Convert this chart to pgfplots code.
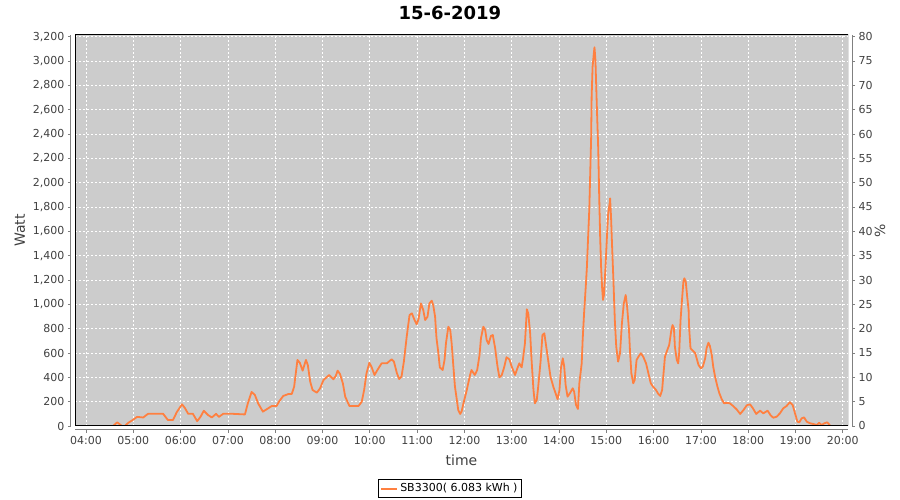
\documentclass[border=0pt]{standalone}
\usepackage{fontspec}
\setmainfont{DejaVu Sans}
\usepackage{pgfplots}
\pgfplotsset{compat=1.18}
\definecolor{bggray}{RGB}{204,204,204}
\definecolor{lineor}{RGB}{255,128,64}
\definecolor{txtgray}{RGB}{64,64,64}
\begin{document}
\begin{tikzpicture}[x=1pt,y=1pt]
\useasboundingbox (0,0) rectangle (900,500);
\begin{axis}[
  at={(75pt,74pt)}, anchor=south west,
  width=773pt, height=391pt, scale only axis,
  xmin=3.767, xmax=20.11, ymin=0, ymax=3214,
  axis x line*=bottom, axis y line*=left,
  axis x line shift=4pt, axis y line shift=4pt,
  x axis line style={-, draw=gray, line width=1pt},
  y axis line style={-, draw=gray, line width=1pt},
  axis background/.style={fill=bggray},
  tick align=outside, major tick length=3pt,
  tick style={gray, line width=0.8pt},
  xtick={4,5,...,20},
  xticklabels={04:00,05:00,06:00,07:00,08:00,09:00,10:00,11:00,12:00,13:00,14:00,15:00,16:00,17:00,18:00,19:00,20:00},
  ytick={0,200,...,3200},
  grid=major,
  grid style={white, dash pattern=on 2pt off 2pt, line width=0.8pt},
  /pgf/number format/assume math mode=true,
  /pgf/number format/1000 sep={,},
  tick label style={color=txtgray, font=\fontsize{11}{13}\selectfont},
  xlabel={time}, ylabel={Watt},
  xlabel style={at={(axis description cs:0.5,-0.087)}, anchor=center, color=txtgray, font=\fontsize{14}{16}\selectfont},
  ylabel style={at={(axis description cs:-0.0712,0.5)}, anchor=center, color=txtgray, font=\fontsize{14}{16}\selectfont},
  title={15-6-2019},
  title style={at={(axis description cs:0.485,1.04)}, anchor=center, font=\bfseries\fontsize{18}{20}\selectfont},
  legend style={at={(axis description cs:0.485,-0.16)}, anchor=center, draw=black, fill=white, font=\fontsize{11}{13}\selectfont, inner sep=2pt, line width=0.8pt},
  legend image code/.code={\draw[lineor, line width=2pt] (0pt,0pt) -- (16pt,0pt);},
]
\addplot[lineor, line width=1.8pt, line join=round] coordinates {
(4.04,0) (4.57,0) (4.66,30) (4.76,0) (4.82,0) (4.89,25) (4.99,50) (5.08,75) (5.21,70)
(5.31,100) (5.50,100) (5.63,100) (5.73,50) (5.84,50) (5.92,115) (6.03,178) (6.09,148)
(6.16,100) (6.26,100) (6.35,40) (6.42,75) (6.49,125) (6.58,90) (6.66,70) (6.75,100)
(6.81,75) (6.90,100) (7.11,100) (7.36,95) (7.42,185) (7.50,280) (7.57,255) (7.64,185)
(7.74,118) (7.85,145) (7.93,165) (8.03,165) (8.08,200) (8.17,247) (8.28,263) (8.35,263)
(8.40,323) (8.47,543) (8.52,520) (8.58,455) (8.65,543) (8.69,500) (8.74,364) (8.79,296)
(8.88,274) (8.95,310) (9.02,378) (9.14,419) (9.23,384) (9.28,411) (9.32,455) (9.37,427)
(9.43,351) (9.48,241) (9.57,164) (9.76,164) (9.83,200) (9.88,296) (9.93,433) (9.99,520)
(10.04,482) (10.10,419) (10.16,460) (10.25,515) (10.36,515) (10.46,548) (10.51,529)
(10.57,438) (10.62,386) (10.67,405) (10.72,529) (10.78,734) (10.84,912) (10.89,926)
(10.94,877) (10.99,836) (11.03,877) (11.08,1008) (11.13,953) (11.17,871) (11.22,898)
(11.26,1008) (11.31,1030) (11.34,995) (11.38,898) (11.41,721) (11.45,598) (11.48,482)
(11.54,460) (11.58,543) (11.61,680) (11.66,816) (11.70,789) (11.73,680) (11.77,474)
(11.80,323) (11.84,214) (11.87,131) (11.91,99) (11.94,118) (11.98,187) (12.05,296)
(12.12,419) (12.15,460) (12.22,419) (12.27,460) (12.32,584) (12.35,721) (12.40,816)
(12.44,789) (12.47,707) (12.51,674) (12.56,740) (12.60,748) (12.65,639) (12.70,488)
(12.74,400) (12.79,419) (12.84,482) (12.89,565) (12.95,548) (13.00,488) (13.07,419)
(13.12,474) (13.16,515) (13.21,482) (13.24,556) (13.28,680) (13.32,959) (13.35,926)
(13.39,762) (13.42,543) (13.46,296) (13.49,187) (13.53,214) (13.56,323) (13.61,529)
(13.65,748) (13.69,762) (13.72,680) (13.77,543) (13.82,405) (13.88,323) (13.94,255)
(13.97,220) (14.01,296) (14.04,474) (14.08,556) (14.11,488) (14.14,337) (14.18,241)
(14.23,269) (14.29,310) (14.32,282) (14.36,173) (14.40,140) (14.43,351) (14.48,515)
(14.50,707) (14.53,926) (14.57,1173) (14.59,1309) (14.61,1502) (14.64,1776) (14.66,2077)
(14.68,2378) (14.69,2707) (14.71,2953) (14.74,3077) (14.75,3113) (14.77,3008) (14.80,2625)
(14.83,2269) (14.85,1885) (14.87,1556) (14.89,1309) (14.91,1145) (14.93,1036) (14.95,1077)
(14.98,1282) (15.01,1529) (15.04,1748) (15.07,1830) (15.08,1871) (15.10,1720) (15.12,1502)
(15.15,1200) (15.18,871) (15.21,652) (15.25,529) (15.29,598) (15.33,844) (15.37,1008)
(15.41,1077) (15.44,981) (15.48,789) (15.50,620) (15.53,433) (15.57,351) (15.60,378)
(15.64,543) (15.68,570) (15.73,598) (15.78,570) (15.84,515) (15.89,433) (15.94,351)
(15.99,323) (16.05,296) (16.10,263) (16.14,247) (16.18,296) (16.21,433) (16.24,570)
(16.29,625) (16.33,666) (16.37,775) (16.40,830) (16.43,803) (16.45,652) (16.49,543)
(16.52,515) (16.54,598) (16.57,871) (16.60,1036) (16.63,1186) (16.65,1214) (16.68,1186)
(16.71,1063) (16.74,953) (16.75,816) (16.78,639) (16.83,619) (16.88,598) (16.91,556)
(16.95,501) (17.00,474) (17.04,488) (17.09,556) (17.12,639) (17.16,685) (17.19,658)
(17.23,584) (17.26,488) (17.30,405) (17.35,323) (17.39,269) (17.44,220) (17.49,187)
(17.56,190) (17.61,187) (17.68,165) (17.76,135) (17.83,99) (17.90,131) (17.97,170)
(18.04,178) (18.10,145) (18.17,99) (18.25,126) (18.32,104) (18.41,126) (18.47,90)
(18.53,68) (18.60,76) (18.67,104) (18.74,145) (18.81,164) (18.88,195) (18.94,173)
(18.99,104) (19.04,35) (19.08,30) (19.13,63) (19.18,71) (19.24,35) (19.31,22) (19.38,16)
(19.45,8) (19.50,27) (19.55,8) (19.61,22) (19.67,30) (19.73,5)
};
\addlegendentry{SB3300( 6.083 kWh )}
\draw[black, line width=1pt] (rel axis cs:0,0) rectangle (rel axis cs:1,1);
\end{axis}
\begin{axis}[
  at={(75pt,74pt)}, anchor=south west,
  width=773pt, height=391pt, scale only axis,
  xmin=3.767, xmax=20.11, ymin=0, ymax=80.35,
  axis x line=none, axis y line*=right, axis y line shift=4pt,
  y axis line style={-, draw=gray, line width=1pt},
  tick align=outside, major tick length=3pt,
  tick style={gray, line width=0.8pt},
  ytick={0,5,...,80},
  /pgf/number format/assume math mode=true,
  tick label style={color=txtgray, font=\fontsize{11}{13}\selectfont},
  ylabel={\%},
  ylabel style={at={(axis description cs:1.0414,0.5)}, anchor=center, color=txtgray, font=\fontsize{14}{16}\selectfont},
]
\end{axis}
\end{tikzpicture}
\end{document}
